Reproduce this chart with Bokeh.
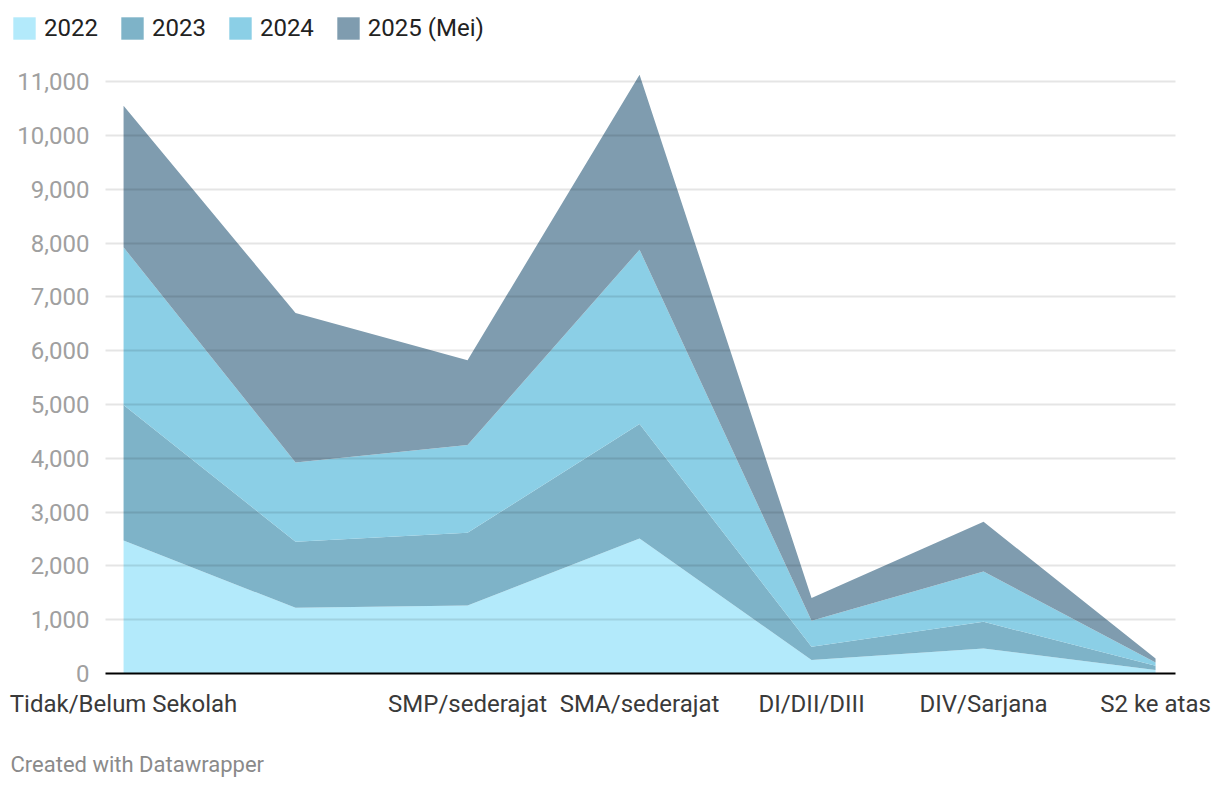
from bokeh.plotting import figure
from bokeh.models import (ColumnDataSource, Range1d, FixedTicker, NumeralTickFormatter,
                          Legend, LegendItem, Label)
from bokeh.layouts import column
from bokeh.embed import file_html
from bokeh.resources import INLINE

categories = ["Tidak/Belum Sekolah", "SD/sederajat", "SMP/sederajat", "SMA/sederajat",
              "DI/DII/DIII", "DIV/Sarjana", "S2 ke atas"]
hidden_labels = ["SD/sederajat"]
series_names = ["2022", "2023", "2024", "2025 (Mei)"]
v2022 = [2470, 1220, 1265, 2510, 250, 465, 65]
v2023 = [2520, 1230, 1350, 2125, 245, 495, 80]
v2024 = [2930, 1470, 1630, 3240, 485, 935, 60]
v2025 = [2630, 2780, 1575, 3255, 425, 925, 75]
y_ticks = [0, 1000, 2000, 3000, 4000, 5000, 6000, 7000, 8000, 9000, 10000, 11000]
colors = ["#b3eafb", "#7eb3c8", "#8bcfe6", "#7f9caf"]
footer_text = "Created with Datawrapper"

W = 1212
FONT = "Roboto"

# ---------- legend strip ----------
leg_fig = figure(width=W, height=50, output_backend="svg", toolbar_location=None,
                 x_range=Range1d(0, W), y_range=Range1d(0, 50),
                 x_axis_location=None, y_axis_location=None, frame_align=False,
                 min_border_left=0, min_border_right=0, min_border_top=0, min_border_bottom=0)
leg_fig.outline_line_color = None
leg_fig.grid.visible = False
# off-screen swatch renderers so the legend has glyphs to draw
dummy = [leg_fig.varea(x=[-200, -100], y1=[-200, -200], y2=[-100, -100], color=c) for c in colors]
legend = Legend(items=[LegendItem(label=n, renderers=[r]) for n, r in zip(series_names, dummy)],
                orientation="horizontal", location=(10, 8),
                glyph_width=28, glyph_height=28, label_standoff=6, spacing=20,
                padding=0, margin=0, border_line_color=None, background_fill_alpha=0,
                label_text_font=FONT, label_text_font_size="24px",
                label_text_color="#222222", label_height=28)
leg_fig.add_layout(legend, "center")

# ---------- main chart ----------
xs = list(range(len(categories)))
source = ColumnDataSource(dict(x=xs, s2022=v2022, s2023=v2023, s2024=v2024, s2025=v2025))

p = figure(width=W, height=690, output_backend="svg", toolbar_location=None,
           x_range=Range1d(-0.105, 6.116), y_range=Range1d(0, 11300), frame_align=False,
           min_border_left=105, min_border_right=37, min_border_top=15, min_border_bottom=67)
p.outline_line_color = None

p.varea_stack(stackers=["s2022", "s2023", "s2024", "s2025"], x="x",
              color=colors, source=source)

p.xaxis.ticker = FixedTicker(ticks=xs)
p.xaxis.major_label_overrides = {i: ("" if c in hidden_labels else c) for i, c in enumerate(categories)}
p.xaxis.major_label_text_font = FONT
p.xaxis.major_label_text_font_size = "24px"
p.xaxis.major_label_text_color = "#3a3a3a"
p.xaxis.major_tick_line_color = None
p.xaxis.minor_tick_line_color = None
p.xaxis.axis_line_color = "#000000"
p.xaxis.axis_line_width = 2
p.xaxis.major_label_standoff = 10

p.yaxis.ticker = FixedTicker(ticks=y_ticks)
p.yaxis.formatter = NumeralTickFormatter(format="0,0")
p.yaxis.major_label_text_font = FONT
p.yaxis.major_label_text_font_size = "24px"
p.yaxis.major_label_text_color = "#a0a0a0"
p.yaxis.major_tick_line_color = None
p.yaxis.minor_tick_line_color = None
p.yaxis.axis_line_color = None
p.yaxis.major_label_standoff = 10

p.xgrid.grid_line_color = None
p.ygrid.grid_line_color = "#000000"
p.ygrid.grid_line_alpha = 0.1
p.ygrid.grid_line_width = 2
p.ygrid.level = "overlay"

# ---------- footer strip ----------
foot_fig = figure(width=W, height=40, output_backend="svg", toolbar_location=None,
                  x_range=Range1d(0, W), y_range=Range1d(0, 40),
                  x_axis_location=None, y_axis_location=None, frame_align=False,
                  min_border_left=0, min_border_right=0, min_border_top=0, min_border_bottom=0)
foot_fig.outline_line_color = None
foot_fig.grid.visible = False
foot_fig.add_layout(Label(x=10, y=16, x_units="screen", y_units="screen", text=footer_text,
                          text_font=FONT, text_font_size="22px", text_color="#8a8a8a",
                          text_baseline="middle", text_align="left"))

layout = column(leg_fig, p, foot_fig, spacing=0)
open("out.html", "w").write(file_html(layout, INLINE))
